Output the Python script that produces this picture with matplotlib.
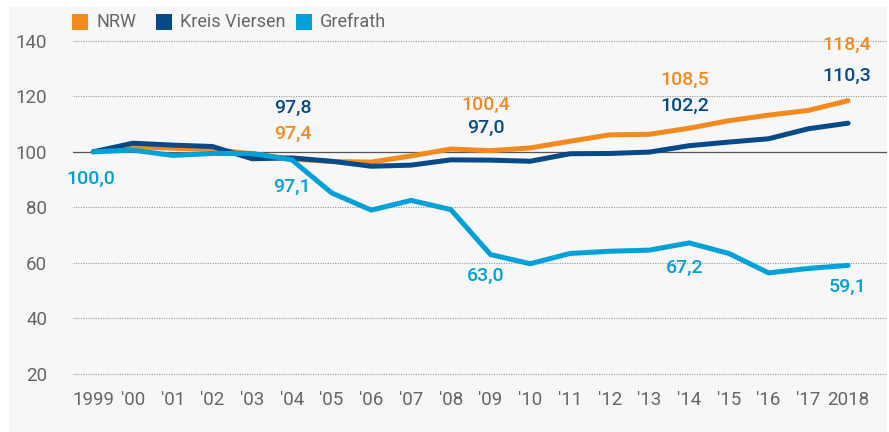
import matplotlib.pyplot as plt
from matplotlib.patches import Rectangle

# Jahre und Indexwerte (1999 = 100)
years = list(range(1999, 2019))
year_labels = ["1999", "'00", "'01", "'02", "'03", "'04", "'05", "'06", "'07", "'08",
               "'09", "'10", "'11", "'12", "'13", "'14", "'15", "'16", "'17", "2018"]

nrw = [100.0, 101.8, 101.3, 100.8, 99.3, 97.4, 96.5, 96.3, 98.5, 101.0,
       100.4, 101.4, 103.8, 106.1, 106.3, 108.5, 111.2, 113.2, 114.9, 118.4]
kreis_viersen = [100.0, 103.1, 102.4, 101.9, 97.5, 97.8, 96.6, 94.8, 95.2, 97.1,
                 97.0, 96.6, 99.3, 99.4, 99.9, 102.2, 103.5, 104.7, 108.3, 110.3]
grefrath = [100.0, 100.6, 98.7, 99.4, 99.4, 97.1, 85.2, 79.0, 82.5, 79.2,
            63.0, 59.7, 63.4, 64.2, 64.6, 67.2, 63.4, 56.4, 58.0, 59.1]

series_names = ["NRW", "Kreis Viersen", "Grefrath"]
colors = ["#f28a1f", "#064a87", "#00a1d9"]

plt.rcParams["font.family"] = ["Roboto", "DejaVu Sans"]

fig = plt.figure(figsize=(8.89, 4.32), dpi=100)
W, H = 889, 432
# grauer Hintergrund
fig.patches.append(Rectangle((9 / W, 0), 878 / W, (H - 7) / H, transform=fig.transFigure,
                             facecolor="#f7f7f7", edgecolor="none", zorder=-1))

ax = fig.add_axes([73 / W, (H - 374) / H, 814 / W, (374 - 40.7) / H])
ax.set_zorder(1)
ax.set_facecolor("none")
ax.set_xlim(1998.49, 2018.98)
ax.set_ylim(20, 140)

for v in [20, 40, 60, 80, 120, 140]:
    ax.axhline(v, color="#999999", lw=0.8, ls=(0, (1, 1.2)), zorder=0.5, clip_on=False)
ax.axhline(100, color="#555555", lw=0.9, zorder=0.6)

data = [nrw, kreis_viersen, grefrath]
for i, (vals, c) in enumerate(zip(data, colors)):
    ax.plot(years, vals, color=c, lw=3.6, solid_capstyle="round",
            solid_joinstyle="round", zorder=1 + i, clip_on=False)

# Beschriftungen: (Reihe, Jahr, dx px, dy px)
annots = [
    (2, 1999, -2, -27),
    (1, 2004, 1, 50), (0, 2004, 1, 25.5), (2, 2004, 0, -27),
    (0, 2009, -5, 46), (1, 2009, -5, 32.6), (2, 2009, -5, -21),
    (0, 2014, -4, 48.7), (1, 2014, -4, 40), (2, 2014, -4, -25),
    (0, 2018, -1, 56), (1, 2018, -1, 47), (2, 2018, -1, -21),
]
for s, yr, dx, dy in annots:
    v = data[s][years.index(yr)]
    ax.annotate(f"{v:.1f}".replace(".", ","), (yr, v),
                xytext=(dx * 0.72, dy * 0.72), textcoords="offset points",
                ha="center", va="center", fontsize=14, fontweight="medium",
                color=colors[s], zorder=5, annotation_clip=False)

ax.set_xticks(years)
ax.set_xticklabels(year_labels)
ax.set_yticks([20, 40, 60, 80, 100, 120, 140])
ax.tick_params(axis="both", length=0, colors="#666666", labelsize=13.5)
ax.tick_params(axis="x", pad=12)
ax.tick_params(axis="y", pad=18.5)
for sp in ax.spines.values():
    sp.set_visible(False)

# Legende
lx = [72, 156, 296]
for name, c, x in zip(series_names, colors, lx):
    fig.patches.append(Rectangle((x / W, (H - 30) / H), 16 / W, 16 / H,
                                 transform=fig.transFigure, facecolor=c,
                                 edgecolor="none", zorder=2))
    fig.text((x + 24) / W, (H - 22) / H, name, ha="left", va="center",
             fontsize=13, color="#666666")

fig.savefig("out.png", dpi=100)
